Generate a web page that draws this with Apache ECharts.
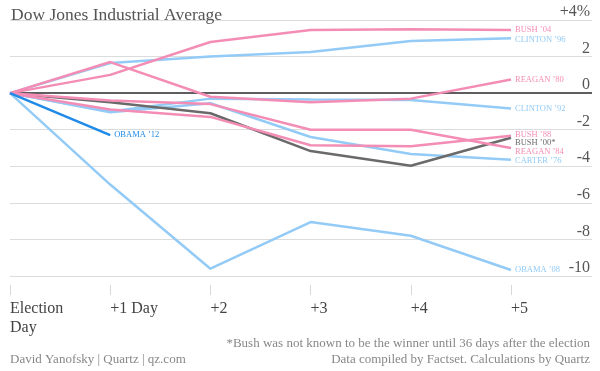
<!DOCTYPE html>
<html>
<head>
<meta charset="utf-8">
<script src="https://cdn.jsdelivr.net/npm/echarts@6/dist/echarts.min.js"></script>
<style>html,body{margin:0;padding:0;background:#fff}#c{width:600px;height:371px}</style>
</head>
<body>
<div id="c"></div>
<script>
var days = [0, 1, 2, 3, 4, 5];
var dayLabels = ['Election\nDay', '+1 Day', '+2', '+3', '+4', '+5'];
var yTickLabels = {'-10': '-10', '-8': '-8', '-6': '-6', '-4': '-4', '-2': '-2', '0': '0', '2': '2', '4': '+4%'};

var bush04    = [0, 1.0, 2.8, 3.45, 3.5, 3.45];
var clinton96 = [0, 1.65, 2.0, 2.25, 2.85, 3.0];
var reagan80  = [0, 1.7, -0.2, -0.5, -0.3, 0.75];
var clinton92 = [0, -1.0, -0.3, -0.35, -0.38, -0.84];
var bush88    = [0, -0.9, -1.3, -2.85, -2.9, -2.33];
var bush00    = [0, -0.5, -1.1, -3.17, -3.97, -2.44];
var reagan84  = [0, -0.4, -0.6, -2.0, -2.0, -3.0];
var carter76  = [0, -1.05, -0.55, -2.4, -3.33, -3.64];
var obama08   = [0, -5.0, -9.6, -7.05, -7.8, -9.67];
var obama12   = [0, -2.3];

var PINK = '#f48db5', BLUE = '#93cbf6', GRAY = '#6a6a6a', DBLUE = '#1f8ae8';
var FONT = 'Liberation Serif';

function pts(arr) { return arr.map(function (v, i) { return [days[i], v]; }); }

function mk(name, arr, color, dy, extra) {
  var s = {
    type: 'line', name: name, data: pts(arr), symbol: 'none', silent: true,
    lineStyle: { color: color, width: 2.5 },
    itemStyle: { color: color },
    endLabel: {
      show: true, formatter: name, color: color, fontSize: 8.5,
      fontFamily: FONT, distance: 4, offset: [0, dy || 0]
    },
    z: 3
  };
  if (extra) for (var k in extra) s[k] = extra[k];
  return s;
}

var series = [
  mk('OBAMA \u201908', obama08, BLUE, 0, {
    markLine: {
      silent: true, symbol: 'none', label: { show: false },
      lineStyle: { color: '#5e5e5e', width: 2, type: 'solid' },
      data: [{ yAxis: 0 }], z: 2
    }
  }),
  mk('CLINTON \u201996', clinton96, BLUE, 1),
  mk('CLINTON \u201992', clinton92, BLUE, 0),
  mk('CARTER \u201976', carter76, BLUE, 1),
  mk('BUSH \u201900*', bush00, GRAY, 5),
  mk('BUSH \u201988', bush88, PINK, -1),
  mk('REAGAN \u201984', reagan84, PINK, 4),
  mk('REAGAN \u201980', reagan80, PINK, 0),
  mk('BUSH \u201904', bush04, PINK, 0),
  mk('OBAMA \u201912', obama12, DBLUE, 0)
];

var chart = echarts.init(document.getElementById('c'), null, { renderer: 'canvas' });
chart.setOption({
  animation: false,
  backgroundColor: '#fff',
  textStyle: { fontFamily: FONT },
  title: {
    text: 'Dow Jones Industrial Average', left: 6, top: 1,
    textStyle: { fontSize: 17.5, fontWeight: 'normal', color: '#555', fontFamily: FONT }
  },
  grid: { left: 10, right: 8, top: 20, bottom: 95, containLabel: false },
  xAxis: {
    type: 'value', min: 0, max: 5 * 582 / 501, interval: 1,
    position: 'bottom', offset: 9,
    axisLine: { show: false, onZero: false },
    axisTick: { show: true, length: 10, lineStyle: { color: '#d8d8d8', width: 1 } },
    splitLine: { show: false },
    axisLabel: {
      showMaxLabel: false, align: 'left', margin: 14,
      fontSize: 16, color: '#444', fontFamily: FONT, lineHeight: 19,
      formatter: function (v) { return (v % 1 === 0 && dayLabels[v] !== undefined) ? dayLabels[v] : ''; }
    }
  },
  yAxis: {
    type: 'value', min: -10, max: 4, interval: 2, position: 'right',
    axisLine: { show: false }, axisTick: { show: false },
    splitLine: { show: true, lineStyle: { color: '#dcdcdc', width: 1 } },
    axisLabel: {
      inside: true, margin: 2, verticalAlign: 'bottom',
      fontSize: 16, color: '#555', fontFamily: FONT,
      formatter: function (v) { return yTickLabels[String(v)]; }
    }
  },
  graphic: [
    { type: 'text', left: 10, top: 353, style: { text: 'David Yanofsky | Quartz | qz.com', fill: '#888', fontSize: 13, fontFamily: FONT } },
    { type: 'text', right: 10, top: 337, style: { text: '*Bush was not known to be the winner until 36 days after the election', fill: '#888', fontSize: 13, fontFamily: FONT } },
    { type: 'text', right: 10, top: 353, style: { text: 'Data compiled by Factset. Calculations by Quartz', fill: '#888', fontSize: 13, fontFamily: FONT } }
  ],
  series: series
});
</script>
</body>
</html>
